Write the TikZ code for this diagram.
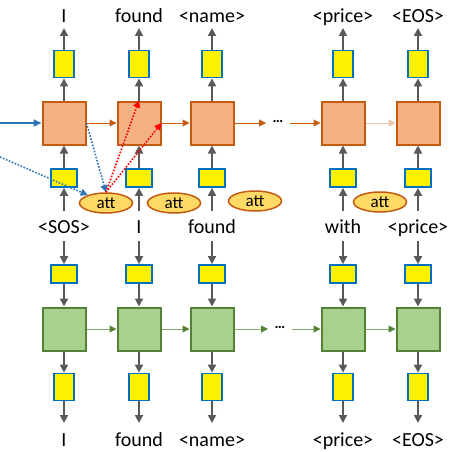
\documentclass[tikz,border=0pt]{standalone}
\usepackage{fontspec}
\setmainfont{Carlito}
\usetikzlibrary{arrows.meta,shapes.geometric}

\definecolor{decfill}{HTML}{F4B183}
\definecolor{decline}{HTML}{C55A11}
\definecolor{encfill}{HTML}{A9D18E}
\definecolor{encline}{HTML}{538135}
\definecolor{embline}{HTML}{0070C0}
\definecolor{attfill}{HTML}{FFD966}
\definecolor{flow}{HTML}{595959}
\definecolor{ctxblue}{HTML}{2E75B6}

\tikzset{
  decbox/.style={draw=decline, fill=decfill, line width=2pt, minimum size=43pt, inner sep=0},
  encbox/.style={draw=encline, fill=encfill, line width=2pt, minimum size=43pt, inner sep=0},
  vemb/.style={draw=embline, fill=yellow, line width=1.8pt, minimum width=20pt, minimum height=27pt, inner sep=0},
  hemb/.style={draw=embline, fill=yellow, line width=1.8pt, minimum width=26pt, minimum height=18pt, inner sep=0},
  attnode/.style={ellipse, draw=decline, fill=attfill, line width=1.5pt, minimum width=53pt, minimum height=20pt, inner sep=0, font=\fontsize{17}{19}\selectfont},
  word/.style={font=\fontsize{20}{24}\selectfont, inner sep=0, anchor=base},
  flowarr/.style={draw=flow, line width=1.8pt, -{Triangle[length=8pt,width=8pt]}},
  decarr/.style={draw=decline, line width=1pt, -{Triangle[length=7pt,width=7pt]}},
  encarr/.style={draw=encline!70, line width=1pt, -{Triangle[length=7pt,width=7pt,color=encline]}},
  dotarr/.style={line width=1.6pt, dash pattern=on 1.6pt off 1.6pt, -{Triangle[length=7pt,width=7pt]}},
}

\begin{document}
\begin{tikzpicture}[x=1pt,y=-1pt]
\useasboundingbox (0,0) rectangle (450,452);

% columns: decoder on top, encoder below
\foreach \c/\x/\wa/\wb/\wc in {1/64/I/<SOS>/I, 2/139/found/I/found, 3/212/<name>/found/<name>,
    5/343/<price>/with/<price>, 6/418/<EOS>/<price>/<EOS>} {
  % decoder
  \node[word] (dw\c) at (\x,23) {\wa};
  \coordinate (dtip\c) at (\x,28);
  \node[vemb] (dv\c) at (\x,64) {};
  \node[decbox] (d\c) at (\x,123) {};
  \node[hemb] (dh\c) at (\x,178) {};
  \coordinate (din\c) at (\x,211);
  \draw[flowarr] (dv\c) -- (dtip\c);
  \draw[flowarr] (d\c) -- (dv\c);
  \draw[flowarr] (dh\c) -- (d\c);
  \draw[flowarr] (din\c) -- (dh\c);
  % middle words
  \node[word] (mw\c) at (\x,233) {\wb};
  % encoder
  \coordinate (ein\c) at (\x,241);
  \node[hemb] (eh\c) at (\x,274) {};
  \node[encbox] (e\c) at (\x,329) {};
  \node[vemb] (ev\c) at (\x,387) {};
  \coordinate (eout\c) at (\x,423);
  \node[word] (ew\c) at (\x,446) {\wc};
  \draw[flowarr] (ein\c) -- (eh\c);
  \draw[flowarr] (eh\c) -- (e\c);
  \draw[flowarr] (e\c) -- (ev\c);
  \draw[flowarr] (ev\c) -- (eout\c);
}

% attention
\node[attnode] (a1) at (106,203) {att};
\node[attnode] (a2) at (174,203) {att};
\node[attnode] (a3) at (255,201) {att};
\node[attnode] (a4) at (380,202) {att};

% decoder recurrence
\node[inner sep=1pt, font=\fontsize{15}{16}\selectfont\bfseries] (ddots) at (278,121) {\dots};
\coordinate (dgo) at (266,123);
\coordinate (dback) at (290,123);
\draw[decarr] (d1) -- (d2);
\draw[decarr] (d2) -- (d3);
\draw[decarr] (d3) -- (dgo);
\draw[decarr] (dback) -- (d5);
\draw[decarr, draw=decline!35] (d5) -- (d6);

% encoder recurrence
\node[inner sep=1pt, font=\fontsize{15}{16}\selectfont\bfseries] (edots) at (280,327) {\dots};
\coordinate (ego) at (268,329);
\coordinate (eback) at (292,329);
\draw[encarr] (e1) -- (e2);
\draw[encarr] (e2) -- (e3);
\draw[encarr] (e3) -- (ego);
\draw[encarr] (eback) -- (e5);
\draw[encarr] (e5) -- (e6);

% context from the left
\coordinate (ctx) at (0,123);
\coordinate (ctxdot) at (0,157);
\draw[ctxblue, line width=1.6pt, -{Triangle[length=8pt,width=7pt]}] (ctx) -- (d1);
\draw[ctxblue, dotarr] (ctxdot) -- (a1);
\draw[ctxblue, dotarr] (d1.east) -- (a1.north);
\draw[red, dotarr] (a1.north) -- (d2.north);
\draw[red, dotarr] (a1.north) -- (d2.east);
\end{tikzpicture}
\end{document}
